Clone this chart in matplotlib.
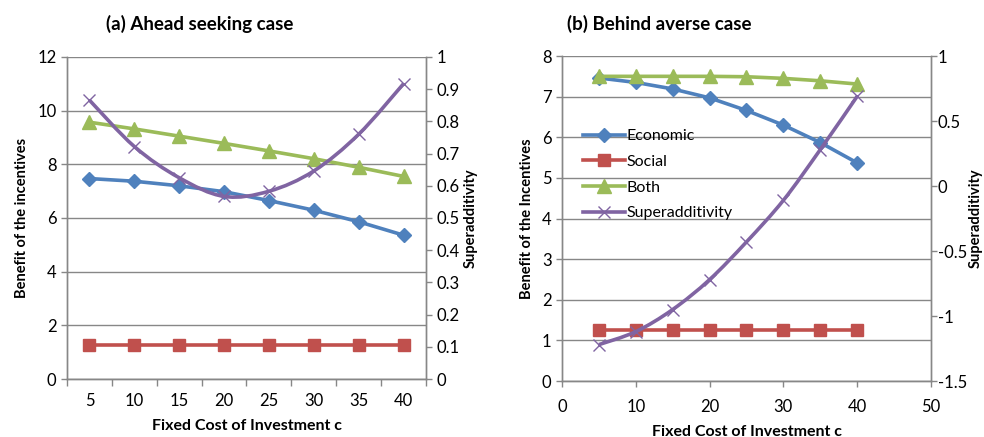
import numpy as np
import matplotlib
matplotlib.use("Agg")
import matplotlib.pyplot as plt
from matplotlib.path import Path
from matplotlib.patches import PathPatch

plt.rcParams['font.family'] = ['Lato', 'DejaVu Sans']

# ---- data ----
cost = [5, 10, 15, 20, 25, 30, 35, 40]

# (a) ahead seeking case
a_economic = [7.47, 7.37, 7.20, 6.98, 6.65, 6.29, 5.86, 5.36]
a_social = [1.25, 1.25, 1.25, 1.25, 1.25, 1.25, 1.25, 1.25]
a_both = [9.57, 9.32, 9.05, 8.78, 8.50, 8.21, 7.89, 7.55]
a_superadd = [0.866, 0.722, 0.625, 0.567, 0.583, 0.646, 0.760, 0.917]

# (b) behind averse case
b_economic = [7.46, 7.35, 7.19, 6.97, 6.66, 6.30, 5.87, 5.37]
b_social = [1.25, 1.25, 1.25, 1.25, 1.25, 1.25, 1.25, 1.25]
b_both = [7.50, 7.50, 7.50, 7.50, 7.49, 7.45, 7.39, 7.31]
b_superadd = [-1.22, -1.12, -0.95, -0.72, -0.43, -0.11, 0.28, 0.69]

series_names = ["Economic", "Social", "Both", "Superadditivity"]

BLUE = "#4F81BD"
RED = "#C0504D"
GREEN = "#9BBB59"
PURPLE = "#8064A2"
GRID = "#878787"
TXT = "#000000"
TICK_FS = 12


def smooth_path(x, y):
    """Cubic Bezier path through the points (Catmull-Rom style smoothing)."""
    p = np.column_stack([x, y]).astype(float)
    n = len(p)
    verts = [p[0]]
    codes = [Path.MOVETO]
    for i in range(n - 1):
        p0 = p[i - 1] if i > 0 else p[i]
        p1 = p[i]
        p2 = p[i + 1]
        p3 = p[i + 2] if i + 2 < n else p[i + 1]
        c1 = p1 + (p2 - p0) / 6.0
        c2 = p2 - (p3 - p1) / 6.0
        verts += [c1, c2, p2]
        codes += [Path.CURVE4] * 3
    return Path(verts, codes)


def style_axes(ax, ax2):
    for a in (ax, ax2):
        a.spines['top'].set_visible(False)
        for s in ('left', 'right', 'bottom'):
            a.spines[s].set_color(GRID)
            a.spines[s].set_linewidth(1.0)
        a.tick_params(colors=GRID, labelcolor=TXT, labelsize=TICK_FS, length=4, width=1)
    ax.grid(axis='y', color=GRID, linewidth=1.0)
    ax.set_axisbelow(True)


fig = plt.figure(figsize=(9.84, 4.37), dpi=100)

# ---------------- (a) ----------------
axA = fig.add_axes([0.0681, 0.1327, 0.3648, 0.7369])
axA2 = axA.twinx()
xa = np.arange(1, len(cost) + 1)

axA.plot(xa, a_economic, color=BLUE, lw=2.6, marker='D', ms=7.5, zorder=3)
axA.plot(xa, a_social, color=RED, lw=2.6, marker='s', ms=9, zorder=3)
axA.plot(xa, a_both, color=GREEN, lw=2.6, marker='^', ms=9.5, zorder=3)
axA2.add_patch(PathPatch(smooth_path(xa, a_superadd), facecolor='none',
                         edgecolor=PURPLE, lw=2.6, zorder=3))
axA2.plot(xa, a_superadd, ls='none', marker='x', ms=9, mew=1.0, color=PURPLE, zorder=4)

axA.set_xlim(0.5, len(cost) + 0.5)
axA.set_ylim(0, 12)
axA.set_yticks(np.arange(0, 13, 2))
axA2.set_ylim(0, 1)
axA2.set_yticks(np.round(np.arange(0, 1.01, 0.1), 1))
axA2.set_yticklabels(["0"] + [f"{v:.1f}" for v in np.arange(0.1, 0.95, 0.1)] + ["1"])
axA.set_xticks(xa)
axA.set_xticklabels([str(c) for c in cost])
axA.set_xticks(np.arange(0.5, len(cost) + 1, 1), minor=True)
style_axes(axA, axA2)
axA.tick_params(axis='x', which='major', length=0, pad=10)
axA.tick_params(axis='x', which='minor', length=5, color=GRID, width=1)

axA.set_ylabel("Benefit of the incentives", fontsize=10.5, fontweight='bold', labelpad=6)
axA2.set_ylabel("Superadditivity", fontsize=10.5, fontweight='bold', labelpad=3)
axA.set_xlabel("Fixed Cost of Investment c", fontsize=11.5, fontweight='bold', labelpad=7)
fig.text(0.203, 0.945, "(a) Ahead seeking case", fontsize=13.5, fontweight='bold',
         ha='center', va='center')

# ---------------- (b) ----------------
axB = fig.add_axes([0.5711, 0.1281, 0.375, 0.7437])
axB2 = axB.twinx()

lines = []
lines += axB.plot(cost, b_economic, color=BLUE, lw=2.6, marker='D', ms=7.5, zorder=3)
lines += axB.plot(cost, b_social, color=RED, lw=2.6, marker='s', ms=9, zorder=3)
lines += axB.plot(cost, b_both, color=GREEN, lw=2.6, marker='^', ms=9.5, zorder=3)
axB2.add_patch(PathPatch(smooth_path(cost, b_superadd), facecolor='none',
                         edgecolor=PURPLE, lw=2.6, zorder=3))
axB2.plot(cost, b_superadd, ls='none', marker='x', ms=9, mew=1.0, color=PURPLE, zorder=4)
lines += axB.plot([], [], color=PURPLE, lw=2.6, marker='x', ms=9, mew=1.0)

axB.set_xlim(0, 50)
axB.set_xticks(np.arange(0, 51, 10))
axB.set_ylim(0, 8)
axB.set_yticks(np.arange(0, 9, 1))
axB2.set_ylim(-1.5, 1)
axB2.set_yticks([-1.5, -1, -0.5, 0, 0.5, 1])
axB2.set_yticklabels(["-1.5", "-1", "-0.5", "0", "0.5", "1"])
style_axes(axB, axB2)
axB.tick_params(axis='x', pad=9)
axB2.tick_params(axis='y', pad=1)

axB.set_ylabel("Benefit of the Incentives", fontsize=10.5, fontweight='bold', labelpad=6)
axB.set_xlabel("Fixed Cost of Investment c", fontsize=11.5, fontweight='bold', labelpad=7)
fig.text(0.999, 0.5, "Superadditivity", fontsize=10.5, fontweight='bold',
         rotation=90, ha='right', va='center')
fig.text(0.67, 0.945, "(b) Behind averse case", fontsize=13.5, fontweight='bold',
         ha='center', va='center')

axB.legend(lines, series_names, loc='upper left', bbox_to_anchor=(0.04, 0.795),
           frameon=False, fontsize=11.5, handlelength=2.6, handletextpad=0.1,
           labelspacing=0.72, borderaxespad=0)

fig.savefig("out.png", dpi=100)
